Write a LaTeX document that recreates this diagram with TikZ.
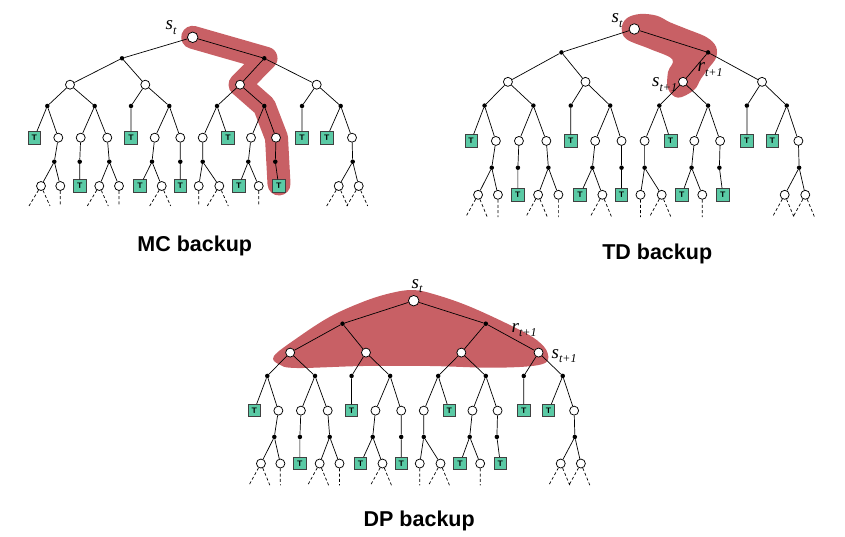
\documentclass[tikz,border=0pt]{standalone}
\usepackage{fontspec}
\setmainfont{Liberation Sans}
\newfontfamily\serifit{Liberation Serif}
\definecolor{hlred}{RGB}{200,96,101}
\definecolor{tgreen}{RGB}{90,202,165}
\newcommand\lab[2]{{\serifit\itshape\fontsize{19}{19}\selectfont #1\raisebox{-4.5pt}{\fontsize{12}{12}\selectfont #2}}}
\tikzset{
  stnode/.style={circle,draw=black,fill=white,line width=0.75pt,minimum size=9pt,inner sep=0pt},
  rootnode/.style={stnode,minimum size=10.5pt},
  actnode/.style={circle,fill=black,minimum size=4.5pt,inner sep=0pt},
  termnode/.style={rectangle,draw=black!75,fill=tgreen,line width=0.8pt,minimum size=12.5pt,inner sep=0pt,font=\sffamily\bfseries\fontsize{8}{8}\selectfont},
  edgeline/.style={line width=0.7pt,black},
  dsh/.style={line width=0.7pt,dash pattern=on 3pt off 2.2pt},
  hl/.style={fill=hlred,draw=none},
  caption/.style={font=\bfseries\fontsize{21.5}{21.5}\selectfont,anchor=base,inner sep=0pt},
  lbl/.style={anchor=base west,inner sep=0pt}
}
\newcommand\drawtree[1]{%
  \node[rootnode] (#1r) at (0,0) {};
  \node[actnode] (#1a1) at (-70.7,21) {};
  \node[actnode] (#1a2) at (71.6,21) {};
  \node[stnode] (#1s1) at (-122.7,47.4) {};
  \node[stnode] (#1s2) at (-47.4,47.4) {};
  \node[stnode] (#1s3) at (47.3,47.4) {};
  \node[stnode] (#1s4) at (124,47.4) {};
  \node[actnode] (#1b1) at (-145.4,68.7) {};
  \node[actnode] (#1b2) at (-98,68.7) {};
  \node[actnode] (#1b3) at (-61.7,68.7) {};
  \node[actnode] (#1b4) at (-23.4,68.7) {};
  \node[actnode] (#1b5) at (24.3,68.7) {};
  \node[actnode] (#1b6) at (71.6,68.7) {};
  \node[actnode] (#1b7) at (109.3,68.7) {};
  \node[actnode] (#1b8) at (148,68.7) {};
  \node[termnode] (#1c1) at (-158.4,100.4) {T};
  \node[stnode] (#1c2) at (-134.4,100.4) {};
  \node[stnode] (#1c3) at (-112,100.4) {};
  \node[stnode] (#1c4) at (-85.4,100.4) {};
  \node[termnode] (#1c5) at (-61.7,100.4) {T};
  \node[stnode] (#1c6) at (-38,100.4) {};
  \node[stnode] (#1c7) at (-12.4,100.4) {};
  \node[stnode] (#1c8) at (10,100.4) {};
  \node[termnode] (#1c9) at (35.3,100.4) {T};
  \node[stnode] (#1c10) at (58.3,100.4) {};
  \node[stnode] (#1c11) at (83.3,100.4) {};
  \node[termnode] (#1c12) at (109.3,100.4) {T};
  \node[termnode] (#1c13) at (134,100.4) {T};
  \node[stnode] (#1c14) at (159.3,100.4) {};
  \node[actnode] (#1d1) at (-138.4,124.4) {};
  \node[actnode] (#1d2) at (-113,124.4) {};
  \node[actnode] (#1d3) at (-83.4,124.4) {};
  \node[actnode] (#1d4) at (-40.7,124.4) {};
  \node[actnode] (#1d5) at (-12.4,124.4) {};
  \node[actnode] (#1d6) at (10,124.4) {};
  \node[actnode] (#1d7) at (55.6,124.4) {};
  \node[actnode] (#1d8) at (82.6,124.4) {};
  \node[actnode] (#1d9) at (160,124.4) {};
  \node[stnode] (#1e1) at (-151.7,148.7) {};
  \node[stnode] (#1e2) at (-132.4,148.7) {};
  \node[termnode] (#1e3) at (-113,148.7) {T};
  \node[stnode] (#1e4) at (-93.4,148.7) {};
  \node[stnode] (#1e5) at (-73.7,148.7) {};
  \node[termnode] (#1e6) at (-52.7,148.7) {T};
  \node[stnode] (#1e7) at (-31,148.7) {};
  \node[termnode] (#1e8) at (-12.4,148.7) {T};
  \node[stnode] (#1e9) at (6,148.7) {};
  \node[stnode] (#1e10) at (26.6,148.7) {};
  \node[termnode] (#1e11) at (46,148.7) {T};
  \node[stnode] (#1e12) at (66,148.7) {};
  \node[termnode] (#1e13) at (86,148.7) {T};
  \node[stnode] (#1e14) at (146,148.7) {};
  \node[stnode] (#1e15) at (166,148.7) {};
  \draw[edgeline] (#1r) -- (#1a1) (#1r) -- (#1a2)
    (#1a1) -- (#1s1) (#1a1) -- (#1s2) (#1a2) -- (#1s3) (#1a2) -- (#1s4)
    (#1s1) -- (#1b1) (#1s1) -- (#1b2) (#1s2) -- (#1b3) (#1s2) -- (#1b4)
    (#1s3) -- (#1b5) (#1s3) -- (#1b6) (#1s4) -- (#1b7) (#1s4) -- (#1b8)
    (#1b1) -- (#1c1) (#1b1) -- (#1c2) (#1b2) -- (#1c3) (#1b2) -- (#1c4)
    (#1b3) -- (#1c5) (#1b4) -- (#1c6) (#1b4) -- (#1c7)
    (#1b5) -- (#1c8) (#1b5) -- (#1c9) (#1b6) -- (#1c10) (#1b6) -- (#1c11)
    (#1b7) -- (#1c12) (#1b8) -- (#1c13) (#1b8) -- (#1c14)
    (#1c2) -- (#1d1) (#1c3) -- (#1d2) (#1c4) -- (#1d3) (#1c6) -- (#1d4)
    (#1c7) -- (#1d5) (#1c8) -- (#1d6) (#1c10) -- (#1d7) (#1c11) -- (#1d8)
    (#1c14) -- (#1d9)
    (#1d1) -- (#1e1) (#1d1) -- (#1e2) (#1d2) -- (#1e3) (#1d3) -- (#1e4) (#1d3) -- (#1e5)
    (#1d4) -- (#1e6) (#1d4) -- (#1e7) (#1d5) -- (#1e8) (#1d6) -- (#1e9) (#1d6) -- (#1e10)
    (#1d7) -- (#1e11) (#1d7) -- (#1e12) (#1d8) -- (#1e13) (#1d9) -- (#1e14) (#1d9) -- (#1e15);
  \draw[dsh] (#1e1) -- ++(-12,20) (#1e1) -- ++(9,20)
    (#1e2) -- ++(0,20)
    (#1e4) -- ++(-12,20) (#1e4) -- ++(9,20)
    (#1e5) -- ++(0,20)
    (#1e7) -- ++(-12,20) (#1e7) -- ++(9,20)
    (#1e9) -- ++(0,20)
    (#1e10) -- ++(-12,20) (#1e10) -- ++(9,20)
    (#1e12) -- ++(0,20)
    (#1e14) -- ++(-12,20) (#1e14) -- ++(9,20)
    (#1e15) -- ++(-12,20) (#1e15) -- ++(9,20);
}
\begin{document}
\begin{tikzpicture}[x=1pt,y=-1pt]
\useasboundingbox (0,0) rectangle (845,537);
% highlights
\draw[hlred,line width=23pt,line cap=round,line join=round]
  (192.7,37.3) -- (266,58.3) -- (240,84.7) -- (264.3,106) -- (276.5,137.7) -- (279,184);
\fill[hl] plot[smooth cycle,tension=0.6] coordinates {
  (621.7,28.3) (626.7,18.3) (640,14) (656.7,15.7) (670,22.3) (686.7,29) (706.7,37.3)
  (716,46.7) (716,57.7) (709,67.7) (701,78.7) (694,90) (678,97.7) (668,88.7) (668,72)
  (672.3,59.3) (650,49) (626.7,39.3)};
\fill[hl] plot[smooth cycle,tension=0.6] coordinates {
  (274,356) (296.7,338.3) (330,316.7) (363.3,301.7) (390,293.3) (413.3,290) (436.7,295)
  (470,306.7) (513.3,326.7) (536.7,340) (547.7,353.3) (541.7,364.3) (496.7,367.7)
  (430,366) (363.3,366) (296.7,368) (279,364.3)};
% trees
\begin{scope}[shift={(192.7,37.3)}]
  \drawtree{mc}
\end{scope}
\begin{scope}[shift={(634.3,29)},xscale=1.03,yscale=1.115]
  \drawtree{td}
\end{scope}
\begin{scope}[shift={(413.7,300.7)},xscale=1.007,yscale=1.095]
  \drawtree{dp}
\end{scope}
% labels
\node[lbl] (mcst) at (165.5,30) {\lab{s}{t}};
\node[lbl] (tdst) at (611.5,23) {\lab{s}{t}};
\node[lbl] (tdrt) at (697.5,72) {\lab{r}{t+1}};
\node[lbl] (tdst1) at (652,87) {\lab{s}{t+1}};
\node[lbl] (dpst) at (411.5,288) {\lab{s}{t}};
\node[lbl] (dprt) at (511.5,332) {\lab{r}{t+1}};
\node[lbl] (dpst1) at (551.5,358) {\lab{s}{t+1}};
% captions
\node[caption] (mccap) at (194.8,251.7) {MC backup};
\node[caption] (tdcap) at (657.2,259.5) {TD backup};
\node[caption] (dpcap) at (419.2,526.7) {DP backup};
\end{tikzpicture}
\end{document}
